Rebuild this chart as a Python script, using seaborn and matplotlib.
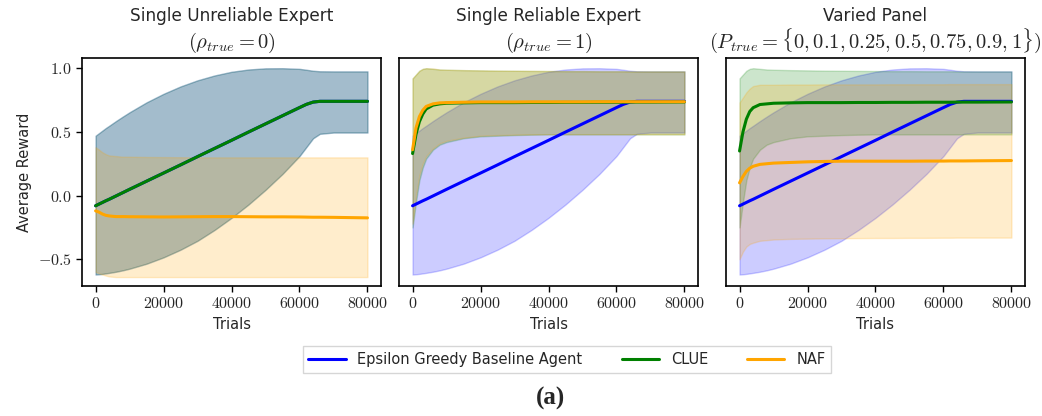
import numpy as np
import pandas as pd
import matplotlib
matplotlib.use("Agg")
import matplotlib.pyplot as plt
from matplotlib.ticker import FuncFormatter
import seaborn as sns

# trial grid shared by every curve
trials = [0, 1000, 2000, 3000, 4000, 6000, 8000, 10000, 15000, 20000, 25000, 30000,
          35000, 40000, 45000, 50000, 55000, 60000, 62000, 64000, 66000, 70000, 80000]

# epsilon greedy baseline (same in all three settings)
base_mean = [-0.08, -0.067, -0.054, -0.041, -0.029, -0.003, 0.023, 0.049, 0.113, 0.177, 0.241, 0.306,
             0.37, 0.434, 0.499, 0.563, 0.627, 0.691, 0.716, 0.734, 0.74, 0.74, 0.74]
base_hi = [0.47, 0.49, 0.51, 0.53, 0.548, 0.585, 0.62, 0.654, 0.732, 0.799, 0.857, 0.905,
           0.943, 0.972, 0.99, 0.999, 1.0, 0.995, 0.988, 0.98, 0.976, 0.975, 0.975]
base_lo = [-0.62, -0.618, -0.615, -0.611, -0.607, -0.598, -0.587, -0.574, -0.535, -0.485, -0.425, -0.355,
           -0.27, -0.175, -0.07, 0.045, 0.17, 0.31, 0.38, 0.45, 0.485, 0.495, 0.495]

# single unreliable expert: CLUE falls back to the baseline
naf_unrel_mean = [-0.12, -0.13, -0.145, -0.155, -0.16, -0.165, -0.165, -0.166, -0.167, -0.168, -0.167, -0.166,
                  -0.165, -0.165, -0.166, -0.167, -0.167, -0.168, -0.169, -0.17, -0.17, -0.171, -0.175]
naf_unrel_hi = [0.38, 0.36, 0.34, 0.325, 0.315, 0.31, 0.305, 0.305, 0.303, 0.302, 0.301, 0.30,
                0.30, 0.30, 0.30, 0.30, 0.30, 0.30, 0.30, 0.30, 0.30, 0.30, 0.30]
naf_unrel_lo = [-0.60, -0.61, -0.62, -0.628, -0.635, -0.64, -0.64, -0.64, -0.64, -0.64, -0.64, -0.64,
                -0.64, -0.64, -0.64, -0.64, -0.64, -0.64, -0.64, -0.64, -0.64, -0.64, -0.64]

# single reliable expert
clue_rel_mean = [0.33, 0.48, 0.58, 0.64, 0.68, 0.71, 0.72, 0.725, 0.728, 0.73, 0.73, 0.73,
                 0.731, 0.731, 0.732, 0.732, 0.733, 0.733, 0.733, 0.734, 0.734, 0.734, 0.735]
clue_rel_hi = [0.92, 0.95, 0.98, 0.995, 1.0, 0.995, 0.99, 0.988, 0.985, 0.983, 0.981, 0.98,
               0.979, 0.978, 0.977, 0.977, 0.976, 0.976, 0.976, 0.975, 0.975, 0.975, 0.975]
clue_rel_lo = [-0.25, -0.05, 0.12, 0.22, 0.29, 0.36, 0.40, 0.42, 0.45, 0.465, 0.47, 0.475,
               0.478, 0.48, 0.48, 0.48, 0.48, 0.48, 0.48, 0.48, 0.48, 0.48, 0.48]
naf_rel_mean = [0.36, 0.53, 0.62, 0.67, 0.70, 0.72, 0.728, 0.73, 0.733, 0.735, 0.735, 0.735,
                0.736, 0.736, 0.736, 0.736, 0.737, 0.737, 0.737, 0.737, 0.737, 0.737, 0.737]
naf_rel_hi = [0.92, 0.95, 0.98, 0.995, 1.0, 0.998, 0.99, 0.988, 0.985, 0.983, 0.981, 0.98,
              0.979, 0.978, 0.977, 0.977, 0.976, 0.976, 0.976, 0.975, 0.975, 0.975, 0.975]
naf_rel_lo = [-0.22, 0.0, 0.16, 0.25, 0.31, 0.37, 0.41, 0.43, 0.455, 0.47, 0.475, 0.478,
              0.48, 0.482, 0.482, 0.482, 0.482, 0.482, 0.482, 0.482, 0.482, 0.482, 0.482]

# varied panel of experts
clue_var_mean = [0.35, 0.50, 0.60, 0.66, 0.69, 0.715, 0.72, 0.725, 0.728, 0.73, 0.73, 0.73,
                 0.731, 0.731, 0.732, 0.732, 0.733, 0.733, 0.733, 0.734, 0.734, 0.734, 0.735]
clue_var_hi = [0.92, 0.95, 0.98, 0.995, 1.0, 0.995, 0.99, 0.988, 0.985, 0.983, 0.981, 0.98,
               0.979, 0.978, 0.977, 0.977, 0.976, 0.976, 0.976, 0.975, 0.975, 0.975, 0.975]
clue_var_lo = [-0.25, -0.05, 0.12, 0.22, 0.29, 0.36, 0.40, 0.42, 0.45, 0.465, 0.47, 0.475,
               0.478, 0.48, 0.48, 0.48, 0.48, 0.48, 0.48, 0.48, 0.48, 0.48, 0.48]
naf_var_mean = [0.10, 0.15, 0.19, 0.215, 0.23, 0.245, 0.25, 0.255, 0.26, 0.265, 0.268, 0.27,
                0.27, 0.27, 0.27, 0.27, 0.271, 0.271, 0.272, 0.272, 0.272, 0.273, 0.275]
naf_var_hi = [0.73, 0.77, 0.81, 0.84, 0.86, 0.87, 0.87, 0.87, 0.872, 0.872, 0.873, 0.873,
              0.873, 0.873, 0.874, 0.874, 0.874, 0.874, 0.875, 0.875, 0.875, 0.875, 0.875]
naf_var_lo = [-0.50, -0.44, -0.40, -0.38, -0.37, -0.355, -0.35, -0.345, -0.34, -0.338, -0.336, -0.335,
              -0.334, -0.333, -0.333, -0.332, -0.332, -0.331, -0.331, -0.33, -0.33, -0.33, -0.33]

agents = ["Epsilon Greedy Baseline Agent", "CLUE", "NAF"]
colors = {"Epsilon Greedy Baseline Agent": "blue", "CLUE": "green", "NAF": "orange"}

titles = ["Single Unreliable Expert", "Single Reliable Expert", "Varied Panel"]
subtitles = [
    "$(\\rho_{true} = 0)$",
    "$(\\rho_{true} = 1)$",
    "$(P_{true} = \\{0, 0.1, 0.25, 0.5, 0.75, 0.9, 1\\})$",
]

panels = [
    {"Epsilon Greedy Baseline Agent": (base_mean, base_lo, base_hi),
     "CLUE": (base_mean, base_lo, base_hi),
     "NAF": (naf_unrel_mean, naf_unrel_lo, naf_unrel_hi)},
    {"Epsilon Greedy Baseline Agent": (base_mean, base_lo, base_hi),
     "CLUE": (clue_rel_mean, clue_rel_lo, clue_rel_hi),
     "NAF": (naf_rel_mean, naf_rel_lo, naf_rel_hi)},
    {"Epsilon Greedy Baseline Agent": (base_mean, base_lo, base_hi),
     "CLUE": (clue_var_mean, clue_var_lo, clue_var_hi),
     "NAF": (naf_var_mean, naf_var_lo, naf_var_hi)},
]

sns.set_theme(style="ticks")
plt.rcParams["font.family"] = ["DejaVu Sans"]
plt.rcParams["mathtext.fontset"] = "cm"
plt.rcParams["axes.edgecolor"] = "black"
plt.rcParams["axes.linewidth"] = 1.2

fig = plt.figure(figsize=(10.42, 4.16), dpi=100)
lefts = [0.0787, 0.3829, 0.6967]
axes = [fig.add_axes([l, 0.3125, 0.287, 0.548]) for l in lefts]

for ax, title, sub, panel in zip(axes, titles, subtitles, panels):
    for agent in agents:
        mean, lo, hi = panel[agent]
        ax.fill_between(trials, lo, hi, color=colors[agent], alpha=0.2, linewidth=1)
    for agent in agents:
        mean, lo, hi = panel[agent]
        sns.lineplot(x=trials, y=mean, color=colors[agent], linewidth=2.2, ax=ax, label=agent)
    ax.get_legend().remove()
    ax.set_title(sub, fontsize=14.8, pad=7.5)
    ax.text(0.5, 1.163, title, transform=ax.transAxes, ha="center", va="baseline", fontsize=12.2)
    ax.set_ylim(-0.71, 1.08)
    ax.set_xticks([0, 20000, 40000, 60000, 80000])
    ax.xaxis.set_major_formatter(FuncFormatter(lambda v, p: f"${v:.0f}$"))
    ax.set_xlabel("Trials", fontsize=10.5, labelpad=4)
    ax.tick_params(axis="both", labelsize=11.5, length=4, width=1, color="black")

axes[0].set_yticks([-0.5, 0.0, 0.5, 1.0])
axes[0].yaxis.set_major_formatter(FuncFormatter(lambda v, p: f"${v:.1f}$"))
axes[0].set_ylabel("Average Reward", fontsize=10.5)
for ax in axes[1:]:
    ax.set_yticks([])
    ax.set_ylabel("")

handles, labels = axes[0].get_legend_handles_labels()
fig.legend(handles, labels, loc="center", bbox_to_anchor=(0.544, 0.136), ncol=3,
           fontsize=10.5, handlelength=2.55, handletextpad=0.8, columnspacing=2.7,
           frameon=True, edgecolor="#cccccc", fancybox=False)
fig.text(0.528, 0.043, "(a)", ha="center", va="center", fontsize=18,
         family="Liberation Serif", fontweight="bold")

fig.savefig("out.png", dpi=100)
